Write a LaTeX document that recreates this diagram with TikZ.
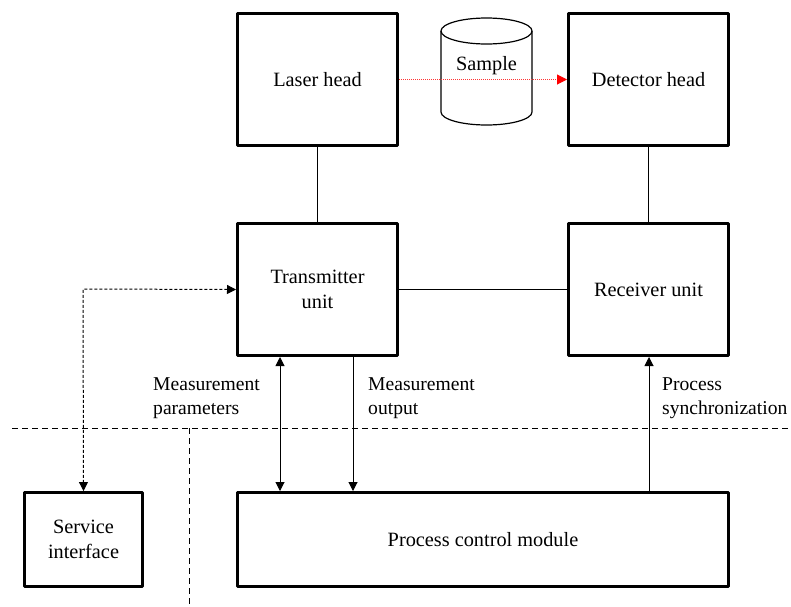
\documentclass[tikz,border=0pt]{standalone}
\usepackage{fontspec}
\setmainfont{Liberation Serif}
\usetikzlibrary{arrows.meta,calc}
\begin{document}
\begin{tikzpicture}[x=1pt,y=-1pt,
  box/.style={draw,line width=3pt,line join=round,minimum width=160pt,minimum height=132pt,align=center,inner sep=0pt,font=\fontsize{20.3}{24.5}\selectfont},
  conn/.style={line width=1pt},
  tip/.style={-{Triangle[length=9pt,width=9pt]}},
  lbl/.style={align=left,anchor=north west,inner sep=0pt,font=\fontsize{19.6}{24.5}\selectfont},
  bigdash/.style={line width=1pt,dash pattern=on 6pt off 4pt},
  smalldash/.style={line width=1pt,dash pattern=on 3pt off 2pt}]
\useasboundingbox (0,0) rectangle (791,606);
\fill[white] (0,0) rectangle (791,606);
% boxes
\node[box] (laser) at (317.5,79.5) {Laser head};
\node[box] (det) at (648.5,79.5) {Detector head};
\node[box] (trans) at (317.5,289.5) {Transmitter\\unit};
\node[box] (recv) at (648.5,289.5) {Receiver unit};
\node[box,minimum width=118pt,minimum height=94pt] (serv) at (83.5,539.5) {Service\\interface};
\node[box,minimum width=491pt,minimum height=94pt] (pcm) at (483,539.5) {Process control module};
% sample cylinder
\draw[line width=1.2pt] (441,31) arc[start angle=180,end angle=-180,x radius=45.5,y radius=13];
\draw[line width=1.2pt] (441,31) -- (441,112) arc[start angle=180,end angle=0,x radius=45.5,y radius=13] -- (532,31);
\node[inner sep=0pt,font=\fontsize{20.3}{24.5}\selectfont] (sample) at (486.5,66) {Sample};
% laser beam
\draw[red!80,line width=1pt,dash pattern=on 1pt off 1pt,-{Triangle[length=10pt,width=10pt,red]}] (laser.east) -- (det.west);
% connections
\draw[conn] (laser.south) -- (trans.north);
\draw[conn] (det.south) -- (recv.north);
\draw[conn] (trans.east) -- (recv.west);
\coordinate (xa) at (280,0);
\coordinate (xb) at (353,0);
\coordinate (xc) at (649,0);
\coordinate (xd) at (83,0);
\draw[conn,{Triangle[length=9pt,width=9pt]}-{Triangle[length=9pt,width=9pt]}] (trans.south -| xa) -- (pcm.north -| xa);
\draw[conn,tip] (trans.south -| xb) -- (pcm.north -| xb);
\draw[conn,tip] (pcm.north -| xc) -- (recv.south -| xc);
\coordinate (corner) at (83,289);
\draw[smalldash,{Triangle[length=9pt,width=9pt]}-{Triangle[length=9pt,width=9pt]}] (trans.west) -- (corner) -- (serv.north);
% dashed boundaries
\coordinate (hl) at (12,428);
\coordinate (hr) at (791,428);
\coordinate (vt) at (189,428);
\coordinate (vb) at (189,606);
\draw[bigdash] (hl) -- (hr);
\draw[bigdash] (vt) -- (vb);
% labels
\node[lbl] (mp) at (153,377) {Measurement\\parameters};
\node[lbl] (mo) at (368,377) {Measurement\\output};
\node[lbl] (ps) at (662,377) {Process\\synchronization};
\end{tikzpicture}
\end{document}
